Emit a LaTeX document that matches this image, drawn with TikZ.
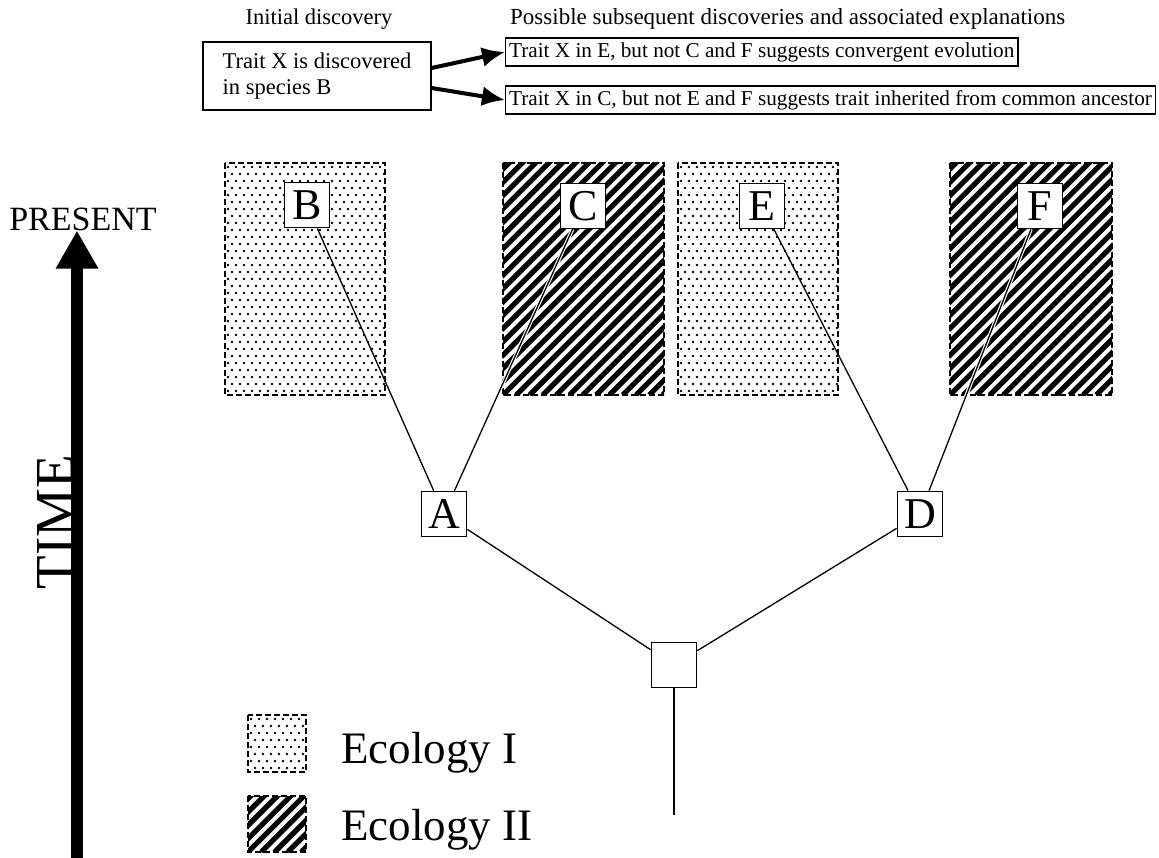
\documentclass[tikz,border=0pt]{standalone}
\usepackage{fontspec}
\setmainfont{Liberation Serif}
\usetikzlibrary{arrows.meta}

\begin{document}
\begin{tikzpicture}
  [x=1pt, y=-1pt,
   taxon/.style={shape=rectangle, draw, line width=1.8pt, fill=white,
     minimum size=45pt, inner sep=0pt, font=\fontsize{44}{44}\selectfont},
   branch/.style={line width=1.3pt},
   cased/.style={branch, preaction={draw, white, line width=3.6pt}},
   note/.style={draw, line width=1.3pt, fill=white, inner xsep=3.5pt,
     inner ysep=2pt, minimum height=28pt, font=\fontsize{21.2}{24}\selectfont},
   pointer/.style={line width=4pt, -{Latex[length=23pt, width=20pt]}},
   border/.style={line width=1.5pt, dash pattern=on 6pt off 3pt},
   stripe/.style={line width=5.2pt}]
  \useasboundingbox (0,0) rectangle (1159,858);
  % Setup constants
  \def\paneltop{163}
  \def\panelbot{395}
  \def\hatchstep{13.3}
  % Dotted areas: ecology I (two panels and the legend square)
  \foreach \xa/\ya/\xb/\yb in {225/\paneltop/385/\panelbot,
      678/\paneltop/838/\panelbot, 248/715/306/772} {
    \begin{scope}
      \clip (\xa,\ya) rectangle (\xb,\yb);
      \foreach \row in {0,...,32} {
        \pgfmathtruncatemacro{\rowshift}{mod(\row,2)*4}
        \foreach \col in {0,...,20} {
          \fill (\xa+3+8*\col+\rowshift, \ya+4+7*\row) circle (1.35);
        }
      }
    \end{scope}
    \draw[border] (\xa,\ya) rectangle (\xb,\yb);
  }
  % Hatched areas: ecology II
  \foreach \xa/\ya/\xb/\yb in {503/\paneltop/664/\panelbot,
      950/\paneltop/1112/\panelbot, 248/796/306/852} {
    \begin{scope}
      \clip (\xa,\ya) rectangle (\xb,\yb);
      \foreach \k in {-18,...,12} {
        \draw[stripe] (\xa+\hatchstep*\k, \yb) -- ++(250,-250);
      }
    \end{scope}
    \draw[border] (\xa,\ya) rectangle (\xb,\yb);
  }

  % Species and ancestors
  \node[taxon] (B) at (307,205) {B};
  \node[taxon] (C) at (583,206) {C};
  \node[taxon] (E) at (762,206) {E};
  \node[taxon] (F) at (1040,206) {F};
  \node[taxon] (A) at (444,514) {A};
  \node[taxon] (D) at (920,514) {D};
  \node[taxon] (root) at (674,665) {};
  \coordinate (stem) at (674,815);
  \draw[branch] (B) -- (A);
  \draw[cased] (C) -- (A);
  \draw[branch] (E) -- (D);
  \draw[cased] (F) -- (D);
  \draw[branch] (A) -- (root);
  \draw[branch] (D) -- (root);
  \draw[branch] (root) -- (stem);

  % Discoveries at the top
  \node[inner sep=0pt, font=\fontsize{22.5}{26}\selectfont] (initial)
    at (319,19) {Initial discovery};
  \node[inner sep=0pt, anchor=west, font=\fontsize{23}{26}\selectfont]
    (possible) at (510,19)
    {Possible subsequent discoveries and associated explanations};
  \node[note, align=left, minimum width=228pt, minimum height=68pt,
    font=\fontsize{22.5}{26}\selectfont] (found) at (317,76)
    {Trait X is discovered\\in species B};
  \node[note, anchor=west] (convergent) at (505,52)
    {Trait X in E, but not C and F suggests convergent evolution};
  \node[note, anchor=west] (inherited) at (505,100)
    {Trait X in C, but not E and F suggests trait inherited from common ancestor};
  \draw[pointer] ([yshift=8pt]found.east) -- (convergent.west);
  \draw[pointer] ([yshift=-12pt]found.east) -- (inherited.west);

  % Time axis
  \node[inner sep=0pt, font=\fontsize{34}{34}\selectfont] (present)
    at (83,219) {PRESENT};
  \node[inner sep=0pt, rotate=90, font=\fontsize{55}{55}\selectfont] (time)
    at (55,522) {TIME};
  \coordinate (past) at (77,858);
  \draw[line width=12pt, -{Triangle[length=38pt, width=40pt]}]
    (past) -- (past |- present.south);

  % Legend
  \node[inner sep=0pt, anchor=base west, font=\fontsize{45}{45}\selectfont]
    (ecoI) at (341,763) {Ecology I};
  \node[inner sep=0pt, anchor=base west, font=\fontsize{45}{45}\selectfont]
    (ecoII) at (341,840) {Ecology II};
\end{tikzpicture}
\end{document}
